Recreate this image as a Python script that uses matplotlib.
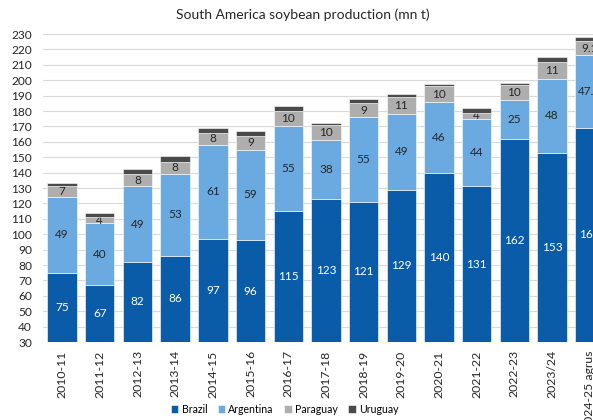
import matplotlib
matplotlib.use("Agg")
import matplotlib.pyplot as plt
import numpy as np

plt.rcParams['font.family'] = ['Lato', 'DejaVu Sans']

# season labels
seasons = ['2010-11', '2011-12', '2012-13', '2013-14', '2014-15', '2015-16',
           '2016-17', '2017-18', '2018-19', '2019-20', '2020-21', '2021-22',
           '2022-23', '2023/24', '2024-25 agrus']

# production, mn t
brazil = [75, 67, 82, 86, 97, 96, 115, 123, 121, 129, 140, 131, 162, 153, 169]
argentina = [49, 40, 49, 53, 61, 59, 55, 38, 55, 49, 46, 44, 25, 48, 47.1]
paraguay = [7, 4, 8, 8, 8, 9, 10, 10, 9, 11, 10, 4, 10, 11, 9.1]
uruguay = [2.3, 2.5, 3.2, 3.6, 3.1, 3.0, 3.5, 1.3, 3.0, 2.0, 1.8, 3.2, 0.9, 3.4, 2.7]

colors = {'Brazil': '#0a5ca8', 'Argentina': '#6aaae0',
          'Paraguay': '#aeaeae', 'Uruguay': '#4a4a4a'}

fig = plt.figure(figsize=(5.93, 4.2), dpi=100)
ax = fig.add_axes([0.0729, 0.1857, 0.9535, 0.7333])

x = np.arange(len(seasons))
w = 0.78
bottom = np.zeros(len(seasons))
series = [('Brazil', brazil), ('Argentina', argentina),
          ('Paraguay', paraguay), ('Uruguay', uruguay)]
for name, vals in series:
    vals = np.array(vals, dtype=float)
    bars = ax.bar(x, vals, w, bottom=bottom, color=colors[name], label=name,
                  edgecolor='white', linewidth=0.4, zorder=3)
    if name != 'Uruguay':
        labels = [f'{v:g}' for v in vals]
        ax.bar_label(bars, labels=labels, label_type='center', fontsize=8.5,
                     color='white' if name == 'Brazil' else '#262626')
    bottom += vals

ax.set_ylim(30, 230)
ax.set_yticks(range(30, 231, 10))
ax.set_xlim(-0.5, len(seasons) - 0.5)
ax.set_xticks(x)
ax.set_xticklabels(seasons, rotation=90, fontsize=8.8, color='#262626')
ax.tick_params(axis='y', labelsize=8.6, colors='#262626', length=0, pad=8)
ax.tick_params(axis='x', length=0, pad=6)
ax.grid(axis='y', color='#d9d9d9', linewidth=0.8, zorder=0)
for s in ax.spines.values():
    s.set_visible(False)

fig.text(0.51, 0.965, 'South America soybean production (mn t)',
         ha='center', va='center', fontsize=10, color='#262626')

fig.legend(loc='lower center', bbox_to_anchor=(0.48, -0.01), ncol=4,
           frameon=False, fontsize=7.6, handlelength=0.7, handleheight=0.7,
           handletextpad=0.3, columnspacing=1.0)

fig.savefig('out.png', dpi=100)
